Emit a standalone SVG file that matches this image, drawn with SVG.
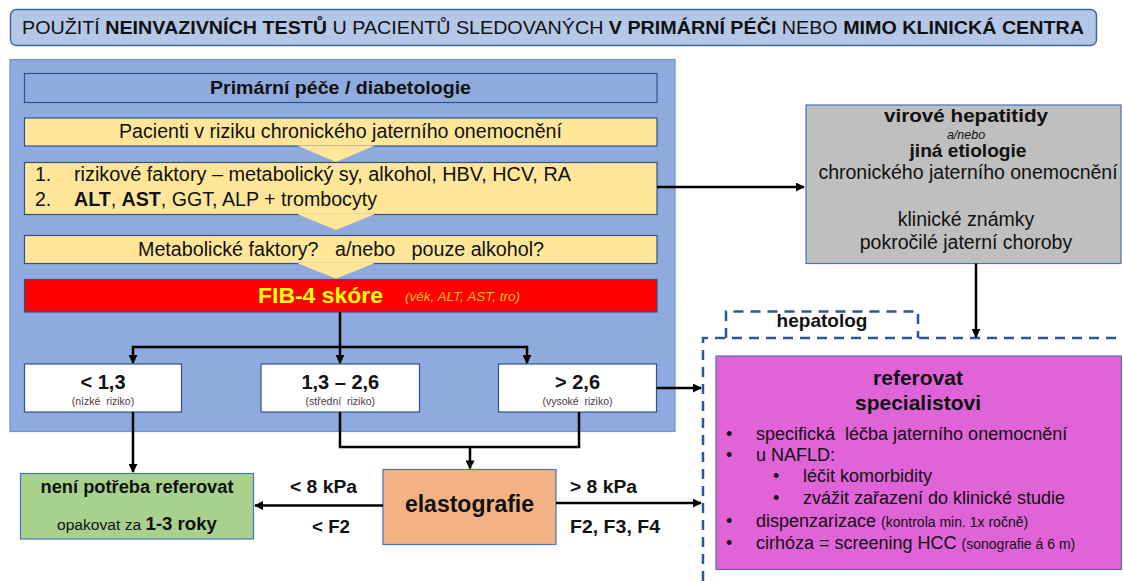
<svg xmlns="http://www.w3.org/2000/svg" width="1123" height="581" viewBox="0 0 1123 581">
<style>
text{font-family:"Liberation Sans",Arial,sans-serif;fill:#111}
.b{font-weight:bold}
.c{text-anchor:middle}
.box{stroke:#2f528f;stroke-width:1.2}
.nb{stroke:#4472c4;stroke-width:1.2}
.ln{fill:none;stroke:#000;stroke-width:2.5}
.dash{fill:none;stroke:#2f5597;stroke-width:2.5;stroke-dasharray:10 7}
</style>
<defs>
<marker id="ah" viewBox="0 0 10 10" refX="9" refY="5" markerUnits="userSpaceOnUse" markerWidth="9" markerHeight="9" orient="auto">
<path d="M0,0 L10,5 L0,10 z" fill="#000"/>
</marker>
</defs>
<g id="title">
<rect x="10.5" y="9.5" width="1086" height="36" rx="6" fill="#b4c7e7" stroke="#3e67b0" stroke-width="1.5"/>
<text x="553" y="34" class="c" font-size="18.5" textLength="1062" lengthAdjust="spacingAndGlyphs">POUŽITÍ <tspan class="b">NEINVAZIVNÍCH TESTŮ</tspan> U PACIENTŮ SLEDOVANÝCH <tspan class="b">V PRIMÁRNÍ PÉČI</tspan> NEBO <tspan class="b">MIMO KLINICKÁ CENTRA</tspan></text>
</g>
<g id="primary-care">
<rect x="10" y="59.5" width="665" height="372" fill="#8faadc" stroke="#7393cf" stroke-width="1.2"/>
</g>
<g id="primary-header">
<rect x="24.5" y="73.5" width="632.5" height="29" fill="#8faadc" class="box"/>
<text x="340.5" y="94" class="c b" font-size="18.5" textLength="261" lengthAdjust="spacingAndGlyphs">Primární péče / diabetologie</text>
</g>
<g id="patients">
<rect x="24.5" y="118" width="632.5" height="28" fill="#ffe699" class="box"/>
<text x="340.5" y="138" class="c" font-size="19.5" textLength="443" lengthAdjust="spacingAndGlyphs">Pacienti v riziku chronického jaterního onemocnění</text>
<polygon points="297,145.5 375,145.5 336,162" fill="#ffe699"/>
</g>
<g id="risk-factors">
<rect x="24.5" y="162.5" width="632.5" height="52" fill="#ffe699" class="box"/>
<text x="35" y="181" font-size="19.5">1.</text>
<text x="74" y="181" font-size="19.5" textLength="497" lengthAdjust="spacingAndGlyphs">rizikové faktory – metabolický sy, alkohol, HBV, HCV, RA</text>
<text x="35" y="206" font-size="19.5">2.</text>
<text x="74" y="206" font-size="19.5" textLength="303" lengthAdjust="spacingAndGlyphs"><tspan class="b">ALT</tspan>, <tspan class="b">AST</tspan>, GGT, ALP + trombocyty</text>
<polygon points="297,214 375,214 336,230" fill="#ffe699"/>
</g>
<g id="metabolic">
<rect x="24.5" y="235.5" width="632.5" height="28" fill="#ffe699" class="box"/>
<text x="341" y="255.5" class="c" font-size="19.5" xml:space="preserve" textLength="406" lengthAdjust="spacingAndGlyphs">Metabolické faktory?   a/nebo   pouze alkohol?</text>
<polygon points="297,263 375,263 336,278.5" fill="#ffe699"/>
</g>
<g id="fib4">
<rect x="24.5" y="279.5" width="632.5" height="32.5" fill="#ff0000" class="box"/>
<text x="258" y="302.5" font-size="21.5" class="b" style="fill:#ffff00" textLength="125" lengthAdjust="spacingAndGlyphs">FIB-4 skóre</text>
<text x="405" y="301" font-size="12.5" font-style="italic" style="fill:#ffc000" textLength="115" lengthAdjust="spacingAndGlyphs">(věk, ALT, AST, tro)</text>
</g>
<g id="low">
<rect x="24.5" y="364" width="157" height="48" fill="#fff" class="box"/>
<text x="103" y="389" class="c b" font-size="20">&lt; 1,3</text>
<text x="103" y="404.5" class="c" font-size="10.5" style="fill:#404040" xml:space="preserve">(nízké  riziko)</text>
</g>
<g id="mid">
<rect x="261" y="364" width="158.5" height="48" fill="#fff" class="box"/>
<text x="340.3" y="389" class="c b" font-size="20">1,3 – 2,6</text>
<text x="340.3" y="404.5" class="c" font-size="10.5" style="fill:#404040" xml:space="preserve">(střední  riziko)</text>
</g>
<g id="high">
<rect x="498.5" y="364" width="158" height="48" fill="#fff" class="box"/>
<text x="577.5" y="389" class="c b" font-size="20">&gt; 2,6</text>
<text x="577.5" y="404.5" class="c" font-size="10.5" style="fill:#404040" xml:space="preserve">(vysoké  riziko)</text>
</g>
<g id="no-referral">
<rect x="20.5" y="473.5" width="233" height="65.5" fill="#a9d18e" class="nb"/>
<text x="137" y="493" class="c b" font-size="18" textLength="193" lengthAdjust="spacingAndGlyphs">není potřeba referovat</text>
<text x="137" y="530" class="c" font-size="15.5" textLength="160" lengthAdjust="spacingAndGlyphs">opakovat za <tspan class="b" font-size="18.5">1-3 roky</tspan></text>
</g>
<g id="elastography">
<rect x="383" y="469.5" width="173" height="75" fill="#f4b183" class="nb"/>
<text x="469.5" y="512" class="c b" font-size="23">elastografie</text>
</g>
<g id="edge-labels">
<text x="290" y="493" class="b" font-size="18" textLength="67" lengthAdjust="spacingAndGlyphs">&lt; 8 kPa</text>
<text x="312" y="533" class="b" font-size="18" textLength="38" lengthAdjust="spacingAndGlyphs">&lt; F2</text>
<text x="570" y="493" class="b" font-size="18" textLength="67" lengthAdjust="spacingAndGlyphs">&gt; 8 kPa</text>
<text x="570" y="533" class="b" font-size="18" textLength="90" lengthAdjust="spacingAndGlyphs">F2, F3, F4</text>
</g>
<g id="other-etiology">
<rect x="806" y="105" width="315" height="158.5" fill="#bfbfbf" class="nb"/>
<text x="966" y="121.5" class="c b" font-size="18.5" textLength="164" lengthAdjust="spacingAndGlyphs">virové hepatitidy</text>
<text x="966" y="138.5" class="c" font-size="12.5" font-style="italic">a/nebo</text>
<text x="968" y="156.5" class="c b" font-size="18.5" textLength="117" lengthAdjust="spacingAndGlyphs">jiná etiologie</text>
<text x="968" y="179" class="c" font-size="19.5">chronického jaterního onemocnění</text>
<text x="966" y="226" class="c" font-size="19.5">klinické známky</text>
<text x="966" y="249" class="c" font-size="19.5">pokročilé jaterní choroby</text>
</g>
<g id="hepatologist">
<path class="dash" d="M726,338 V311.5 H918 V338"/>
<path class="dash" d="M703,581 V338 H1123"/>
<text x="822" y="327" class="c b" font-size="19">hepatolog</text>
</g>
<g id="refer-specialist">
<rect x="716" y="356" width="405.5" height="213.5" fill="#e063d8" stroke="#5a6db3" stroke-width="1.2"/>
<text x="918" y="385" class="c b" font-size="21">referovat</text>
<text x="918" y="410" class="c b" font-size="21">specialistovi</text>
<g font-size="18">
<text x="726" y="440">•</text><text x="756" y="440" xml:space="preserve">specifická  léčba jaterního onemocnění</text>
<text x="726" y="461">•</text><text x="756" y="461">u NAFLD:</text>
<text x="773" y="482">•</text><text x="803" y="482">léčit komorbidity</text>
<text x="773" y="503.5">•</text><text x="803" y="503.5">zvážit zařazení do klinické studie</text>
<text x="726" y="527">•</text><text x="756" y="527">dispenzarizace <tspan font-size="14">(kontrola min. 1x ročně)</tspan></text>
<text x="726" y="548.5">•</text><text x="756" y="548.5">cirhóza = screening HCC <tspan font-size="14">(sonografie á 6 m)</tspan></text>
</g>
</g>
<g id="connectors">
<path class="ln" d="M340,312 V363" marker-end="url(#ah)"/>
<path class="ln" d="M340,347 H133 V363" marker-end="url(#ah)"/>
<path class="ln" d="M340,347 H527 V363" marker-end="url(#ah)"/>
<path class="ln" d="M657,187 H804" marker-end="url(#ah)"/>
<path class="ln" d="M656.5,388 H701" marker-end="url(#ah)"/>
<path class="ln" d="M133,412 V472" marker-end="url(#ah)"/>
<path class="ln" d="M340,412 V447 H579 V412"/>
<path class="ln" d="M470,447 V468.5" marker-end="url(#ah)"/>
<path class="ln" d="M383,505.5 H255" marker-end="url(#ah)"/>
<path class="ln" d="M556,503 H701" marker-end="url(#ah)"/>
<path class="ln" d="M976,263.5 V337" marker-end="url(#ah)"/>
</g>
</svg>
